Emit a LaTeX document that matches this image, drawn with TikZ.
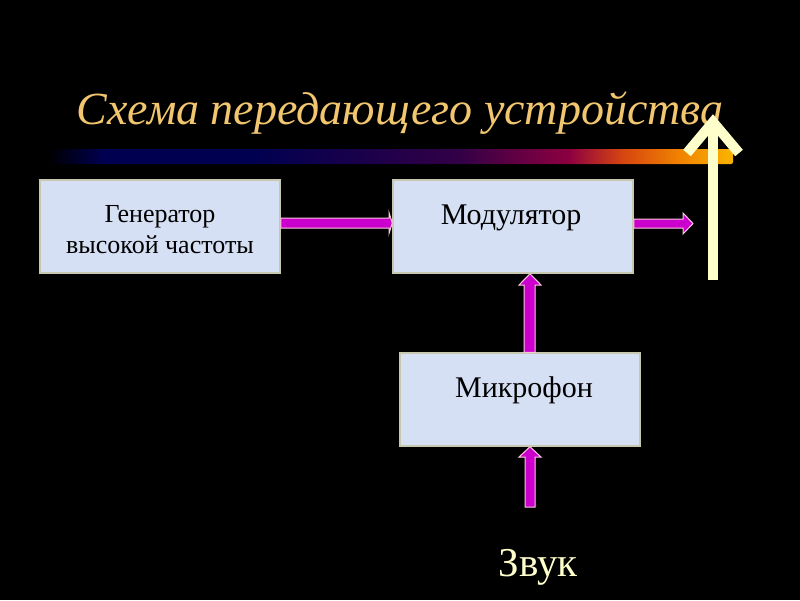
\documentclass[tikz,border=0pt]{standalone}
\usepackage{fontspec}
\setmainfont{Liberation Serif}
\definecolor{gold}{RGB}{242,198,110}
\definecolor{cream}{RGB}{255,255,204}
\definecolor{mag}{RGB}{204,0,204}
\definecolor{pinkline}{RGB}{250,200,220}
\definecolor{boxfill}{RGB}{214,224,244}
\definecolor{boxline}{RGB}{200,200,176}
\definecolor{navyb}{RGB}{0,0,80}
\definecolor{purb}{RGB}{50,0,70}
\definecolor{crim}{RGB}{140,0,64}
\definecolor{orr}{RGB}{215,70,16}
\definecolor{orng}{RGB}{240,130,0}
\definecolor{yel}{RGB}{250,180,0}
\pgfdeclarehorizontalshading{barshade}{100bp}{color(0bp)=(black); color(25bp)=(black); color(29bp)=(navyb); color(40bp)=(navyb); color(55bp)=(purb); color(63bp)=(crim); color(67bp)=(orr); color(71bp)=(orng); color(75bp)=(yel); color(100bp)=(yel)}
\tikzset{
  blk/.style={draw=boxline, line width=1.5pt, fill=boxfill, minimum width=240pt, minimum height=93pt, inner sep=0pt},
  marrow/.style={fill=mag, draw=pinkline, line width=1pt, line join=miter},
}
\begin{document}
\begin{tikzpicture}[x=1pt,y=-1pt]
\fill[black] (0,0) rectangle (800,600);
\useasboundingbox (0,0) rectangle (800,600);
% title
\node[text=gold, font=\fontsize{46}{50}\selectfont\itshape, anchor=base] (title) at (400,124) {Схема передающего устройства};
% gradient bar
\shade[shading=barshade, rounded corners=2pt] (48,149) rectangle (733,164);
% boxes
\node[blk] (gen) at (160,226.5) {};
\node[font=\fontsize{26}{31}\selectfont, align=center] (gent) at (160,230) {Генератор\\высокой частоты};
\node[blk] (mod) at (513,226.5) {};
\node[font=\fontsize{30}{34}\selectfont] (modt) at (511,218) {Модулятор};
\node[blk] (mic) at (520,399.5) {};
\node[font=\fontsize{30}{34}\selectfont] (mict) at (524,390) {Микрофон};
\node[text=cream, font=\fontsize{41}{44}\selectfont] (zvuk) at (538,567) {Звук};
% magenta arrows (block arrows from box to box)
\draw[marrow] (gen.east |- 0,218) -- (389,218) -- (389,212.5) -- (mod.west |- 0,223) -- (389,233.5) -- (389,228) -- (gen.east |- 0,228) -- cycle;
\draw[marrow] (mod.east |- 0,219) -- (683,219) -- (683,213) -- (693,223.5) -- (683,234) -- (683,228) -- (mod.east |- 0,228) -- cycle;
\draw[marrow] (mic.north -| 524,0) -- (524,285) -- (519,285) -- (mod.south -| 530,0) -- (541,285) -- (535,285) -- (mic.north -| 535,0) -- cycle;
\draw[marrow] (525,507) -- (525,457) -- (519,457) -- (mic.south -| 530,0) -- (541,457) -- (535,457) -- (535,507) -- cycle;
% cream arrow
\coordinate (cb) at (713,280);
\coordinate (ct) at (713,122);
\draw[cream, line width=10pt] (cb) -- (ct);
\draw[cream, line width=10pt, line join=miter] (687,153) -- (ct) -- (739,153);
\end{tikzpicture}
\end{document}
